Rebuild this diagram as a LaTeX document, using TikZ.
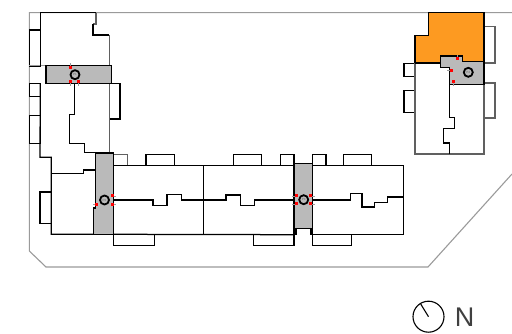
\documentclass[tikz,border=0pt]{standalone}
\usepackage{fontspec}
\setmainfont{Liberation Sans}
\usepackage{tikz}
\definecolor{coreGrey}{HTML}{BABABA}
\definecolor{unitOrange}{HTML}{FD9A21}
\definecolor{siteGrey}{HTML}{9A9A9A}
\definecolor{wallGrey}{HTML}{606060}
\tikzstyle{wall} = [black, line width=1.25pt]
\tikzstyle{softWall} = [wallGrey, line width=1.25pt]
\tikzstyle{site} = [siteGrey, line width=1.1pt]
\tikzstyle{coreArea} = [fill=coreGrey, draw=black, line width=1.4pt]
\tikzstyle{lift} = [draw=black, circle, line width=1.8pt, minimum size=9pt, inner sep=0pt, text=wallGrey, font=\fontsize{3}{3}\selectfont]
\tikzstyle{doorMark} = [fill=red, draw=none, minimum size=3pt, inner sep=0pt]
\tikzstyle{doorTick} = [siteGrey, line width=0.6pt]

\begin{document}
\begin{tikzpicture}[x=1pt,y=-1pt]
  \useasboundingbox (0,0) rectangle (512,334);

  % site outline
  \draw[site] (512,12.7) -- (29.3,12.7) -- (29.3,251) -- (46,267) -- (428,267) -- (512,174);

  % balconies
  \foreach \xa/\ya/\xb/\yb in {29.3/30/40.3/66, 29.3/83.7/40.3/96.3, 29.3/115.7/40.3/143.3,
      109.3/83.7/120/119, 40/192/51.3/223.7, 146/154.3/174.3/165.3,
      113.3/234.3/154.3/245.7, 233.7/154.7/261.7/165.3, 280.7/154.7/294/165.3,
      253.3/234.7/294/245.3, 312.3/154.7/326/165.3, 343.3/154.7/371.7/165.3,
      312.3/234.7/351.7/245.3, 404/63.3/415/76.7, 404/90.3/415/112.3}
    \draw[wall] (\xa,\ya) rectangle (\xb,\yb);
  \draw[site] (29.3,65.7) -- (46,65.7);
  \draw[softWall] (113.3,154.3) -- (127.3,154.3) -- (127.3,165.3);
  \draw[softWall] (484,26.3) rectangle (495,63);
  \draw[softWall] (484,83) rectangle (495,118);

  % north wing
  \draw[wall] (40.3,65.7) -- (40.3,12.7) -- (96,12.7);
  \draw[softWall] (96,12.7) -- (96,24) -- (93,24);
  \draw[wall] (93,24) -- (93,35) -- (109.3,35);
  \draw[softWall] (109.3,35) -- (109.3,65.7);
  \draw[wall] (40.3,83.7) -- (40,157.3) -- (51.3,157.3) -- (51.3,234.3) -- (93.3,234.3);
  \draw[wall] (74.3,83.7) -- (74.3,114.7) -- (69.7,114.7) -- (69.7,143.3) -- (84.7,143.3)
    -- (84.7,152.7) -- (95.3,152.7) -- (109.3,152.7);
  \draw[softWall] (109.3,83.7) -- (109.3,152.7);
  \draw[wall] (51.3,173.3) -- (83.3,173.3) -- (83.3,170) -- (95.3,170);

  % south wing
  \draw[wall] (113.3,165.3) -- (294,165.3);
  \draw[wall] (113.3,234.3) -- (294,234.7);
  \draw[wall] (203.7,165.3) -- (203.7,234.5);
  \draw[wall] (113.3,200) -- (153,200) -- (153,205.3) -- (167,205.3) -- (167,194.7)
    -- (181.7,194.7) -- (181.7,200) -- (226,200) -- (226,195) -- (240.7,195) -- (240.7,205.3)
    -- (254.7,205.3) -- (254.7,200) -- (294,200);
  \draw[wall] (312.3,165.3) -- (403.3,165.3) -- (403.3,234.7) -- (312.3,234.7);
  \draw[wall] (312.3,200) -- (350.7,200) -- (350.7,193.3) -- (362,193.3) -- (362,207)
    -- (374.3,207) -- (374.3,202.7) -- (387.3,202.7) -- (387.3,197) -- (403.3,197);

  % east block
  \fill[unitOrange] (428.3,12.7) -- (484,12.7) -- (484,61.3) -- (462.3,61.3) -- (462.3,56)
    -- (440.7,56) -- (440.7,63) -- (415,63) -- (415,35.3) -- (428.3,35.3) -- cycle;
  \draw[wall] (415,63) -- (415,35.3) -- (428.3,35.3) -- (428.3,12.7) -- (484,12.7) -- (484,61.3);
  \draw[softWall] (415,63) -- (415,154) -- (484,154) -- (484,84.3);
  \draw[wall] (415,63) -- (440.7,63);
  \draw[wall] (449.7,84.3) -- (449.7,117.3) -- (454.3,117.3) -- (454.3,128.7) -- (443.7,128.7)
    -- (443.7,143) -- (449.3,143) -- (449.3,154);

  % cores
  \draw[coreArea] (46,65.7) rectangle (111.3,83.7);
  \draw[coreArea] (95.3,153) -- (113.3,153) -- (113.3,234.3) -- (93.3,234.3) -- (93.3,208)
    -- (95.3,208) -- cycle;
  \draw[coreArea] (294,163.3) -- (312.3,163.3) -- (312.3,234.7) -- (311,234.7) -- (311,228.3)
    -- (296,228.3) -- (296,234.7) -- (294,234.7) -- cycle;
  \draw[coreArea] (440.7,56) -- (462.3,56) -- (462.3,61.3) -- (484,61.3) -- (484,84.3)
    -- (449.7,84.3) -- (449.7,67.3) -- (440.7,67.3) -- cycle;

  % door ticks and marks
  \foreach \xa/\ya/\xb/\yb in {70.3/67.3/70.3/63.5, 70.3/82/70.3/86, 78.7/82/78.7/86,
      112/196/115.5/196, 112/204.3/115.5/204.3, 96.7/204.3/93/204.3,
      296/196/292/196, 296/204/292/204, 310.7/196/314.5/196, 310.7/204/314.5/204,
      457.3/58.7/457.3/55, 451/70.3/447/70.3, 453.3/81.7/453.3/86.5}
    \draw[doorTick] (\xa,\ya) -- (\xb,\yb);
  \foreach \xa/\ya in {70.3/67.3, 70.3/82, 78.7/82, 112/196, 112/204.3, 96.7/204.3,
      296/196, 296/204, 310.7/196, 310.7/204, 457.3/58.7, 451/70.3, 453.3/81.7}
    \node[doorMark] at (\xa,\ya) {};

  % lifts
  \node[lift] (p1) at (75,74.7) {P1};
  \node[lift] (p2) at (104.5,200) {P2};
  \node[lift] (p3) at (303.7,199.7) {P3};
  \node[lift] (p4) at (468.3,72.3) {P4};

  % north sign
  \node[draw=black, circle, line width=1.1pt, minimum size=31pt, inner sep=0pt] (dial) at (428.5,316.7) {};
  \coordinate (tip) at (420.7,304);
  \draw[black, line width=1.1pt] (dial.center) -- (tip);
  \node[font=\fontsize{27}{27}\selectfont, inner sep=0pt, anchor=center, text=black!75] (north) at (464.5,317) {N};
\end{tikzpicture}
\end{document}
